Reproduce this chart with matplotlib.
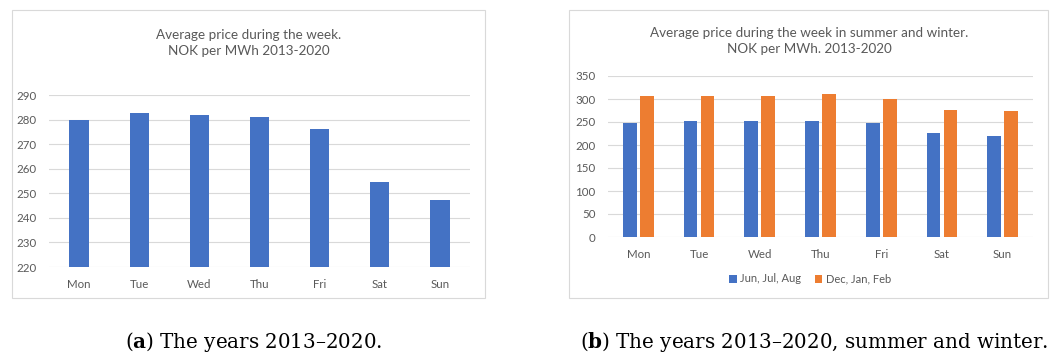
import matplotlib.pyplot as plt
from matplotlib.patches import Rectangle
import numpy as np

# weekday prices, NOK per MWh 2013-2020
days = ['Mon', 'Tue', 'Wed', 'Thu', 'Fri', 'Sat', 'Sun']
avg_price = [279.8, 282.8, 281.9, 281.0, 276.2, 254.7, 247.3]
summer_price = [247.8, 252.9, 252.9, 251.4, 248.6, 226.8, 219.6]
winter_price = [307.2, 306.5, 307.2, 310.1, 300.0, 276.1, 274.6]
summer_label = 'Jun, Jul, Aug'
winter_label = 'Dec, Jan, Feb'

BLUE = '#4472C4'
ORANGE = '#ED7D31'
GRID = '#D9D9D9'
TXT = '#595959'
CAP_FONT = 'DejaVu Serif'

plt.rcParams['font.family'] = ['Lato', 'DejaVu Sans']
plt.rcParams['mathtext.fontset'] = 'custom'
plt.rcParams['mathtext.rm'] = CAP_FONT
plt.rcParams['mathtext.bf'] = CAP_FONT + ':bold'

W, H = 1052, 356
fig = plt.figure(figsize=(W / 100, H / 100), dpi=100)


def px_axes(x0, y0, x1, y1):
    # axes placed from pixel corners (top-left origin)
    return fig.add_axes([x0 / W, 1 - y1 / H, (x1 - x0) / W, (y1 - y0) / H])


def frame(x0, y0, x1, y1):
    fig.patches.append(Rectangle((x0 / W, 1 - y1 / H), (x1 - x0) / W, (y1 - y0) / H,
                                 transform=fig.transFigure, fill=False,
                                 edgecolor=GRID, linewidth=0.8))


def style(ax, ylo, yhi, step):
    ax.set_ylim(ylo, yhi)
    ax.set_yticks(np.arange(ylo, yhi + 1, step))
    ax.set_xlim(-0.5, len(days) - 0.5)
    ax.set_xticks(range(len(days)))
    ax.set_xticklabels(days)
    for s in ax.spines.values():
        s.set_visible(False)
    ax.grid(axis='y', color=GRID, linewidth=0.8)
    ax.set_axisbelow(True)
    ax.tick_params(length=0, labelsize=8.3, labelcolor=TXT)
    ax.tick_params(axis='y', pad=9)
    ax.tick_params(axis='x', pad=9)


# left chart
frame(12, 10, 485, 298)
ax1 = px_axes(49, 95, 470, 267)
x = np.arange(len(days))
ax1.bar(x, avg_price, width=0.32, color=BLUE)
style(ax1, 220, 290, 10)
fig.text(248.5 / W, 1 - 43 / H, 'Average price during the week.\nNOK per MWh 2013-2020',
         ha='center', va='center', fontsize=9.7, color=TXT, linespacing=1.45)

# right chart
frame(569, 10, 1048, 298)
ax2 = px_axes(608, 76, 1033, 237)
ax2.bar(x - 0.14, summer_price, width=0.225, color=BLUE, label=summer_label)
ax2.bar(x + 0.14, winter_price, width=0.225, color=ORANGE, label=winter_label)
style(ax2, 0, 350, 50)
fig.text(809 / W, 1 - 41 / H, 'Average price during the week in summer and winter.\nNOK per MWh. 2013-2020',
         ha='center', va='center', fontsize=9.7, color=TXT, linespacing=1.45)
fig.legend(loc='center', bbox_to_anchor=(810 / W, 1 - 279 / H), ncol=2, frameon=False,
           fontsize=8, labelcolor=TXT, handlelength=0.7, handleheight=0.7,
           handletextpad=0.3, columnspacing=1.2)

# sub-captions
fig.text(254 / W, 1 - 342 / H, r'($\mathbf{a}$) The years 2013–2020.',
         ha='center', va='center', fontsize=14.3, family=CAP_FONT)
fig.text(814 / W, 1 - 342 / H, r'($\mathbf{b}$) The years 2013–2020, summer and winter.',
         ha='center', va='center', fontsize=14.3, family=CAP_FONT)

fig.savefig('out.png', dpi=100)
